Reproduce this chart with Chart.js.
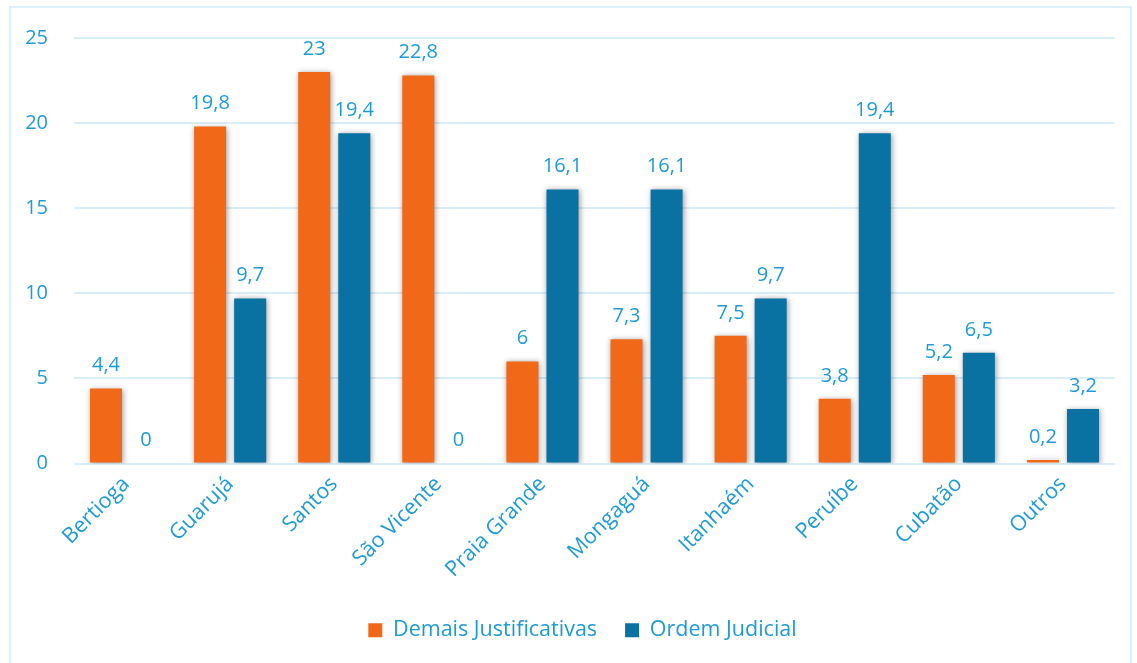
<!DOCTYPE html>
<html>
<head>
<meta charset="utf-8">
<script src="https://cdn.jsdelivr.net/npm/chart.js@4"></script>
<style>
  html, body { margin: 0; padding: 0; background: #fff; overflow: hidden; }
  #frame { position: absolute; left: 9px; top: 6px; width: 1119px; height: 700px; border: 2px solid #dcf0fb; }
  #chart { position: absolute; left: 0; top: 0; }
</style>
</head>
<body>
<div id="frame"></div>
<canvas id="chart" width="1137" height="663"></canvas>
<script>
// dados
const cidades = ['Bertioga', 'Guarujá', 'Santos', 'São Vicente', 'Praia Grande', 'Mongaguá', 'Itanhaém', 'Peruíbe', 'Cubatão', 'Outros'];
const demais = [4.4, 19.8, 23, 22.8, 6, 7.3, 7.5, 3.8, 5.2, 0.2];
const ordem = [0, 9.7, 19.4, 0, 16.1, 16.1, 9.7, 19.4, 6.5, 3.2];
const yMax = 25;
const yStep = 5;

const textColor = '#1e9bd7';
const fontFamily = '"Open Sans", sans-serif';

// sombra das barras
const shadowPlugin = {
  id: 'barShadow',
  beforeDatasetDraw(chart) {
    const ctx = chart.ctx;
    ctx.save();
    ctx.shadowColor = 'rgba(0,0,0,0.4)';
    ctx.shadowBlur = 6;
    ctx.shadowOffsetX = 1;
    ctx.shadowOffsetY = 1;
  },
  afterDatasetDraw(chart) {
    chart.ctx.restore();
  }
};

// legenda um pouco deslocada para a direita, como no original
const legendShift = {
  id: 'legendShift',
  afterLayout(chart) {
    if (chart.legend) chart.legend.left += 50;
  }
};

// rótulos de valor acima das barras
const valueLabels = {
  id: 'valueLabels',
  afterDatasetsDraw(chart) {
    const ctx = chart.ctx;
    ctx.save();
    ctx.font = '20px ' + fontFamily;
    ctx.fillStyle = textColor;
    ctx.textAlign = 'center';
    ctx.textBaseline = 'bottom';
    chart.data.datasets.forEach((ds, i) => {
      chart.getDatasetMeta(i).data.forEach((bar, j) => {
        const txt = String(ds.data[j]).replace('.', ',');
        ctx.fillText(txt, bar.x, bar.y - 13);
      });
    });
    ctx.restore();
  }
};

new Chart(document.getElementById('chart'), {
  type: 'bar',
  data: {
    labels: cidades,
    datasets: [{
      label: 'Demais Justificativas',
      backgroundColor: '#f26819',
      data: demais
    }, {
      label: 'Ordem Judicial',
      backgroundColor: '#0a72a3',
      data: ordem
    }]
  },
  options: {
    responsive: false,
    animation: false,
    devicePixelRatio: 1,
    layout: { padding: { top: 36, right: 22, bottom: 12, left: 0 } },
    datasets: { bar: { categoryPercentage: 0.77, barPercentage: 0.8 } },
    scales: {
      x: {
        offset: true,
        grid: { display: false },
        border: { display: false },
        ticks: {
          color: textColor,
          font: { family: fontFamily, size: 21.5 },
          minRotation: 45,
          maxRotation: 45,
          padding: 0
        },
        afterFit(scale) { scale.height = 128; }
      },
      y: {
        min: 0,
        max: yMax,
        grid: { color: '#d9eefa', lineWidth: 2, drawTicks: false },
        border: { display: false },
        ticks: {
          stepSize: yStep,
          color: textColor,
          font: { family: fontFamily, size: 20 },
          padding: 26
        },
        afterFit(scale) { scale.width = 74; }
      }
    },
    plugins: {
      legend: {
        position: 'bottom',
        labels: {
          color: textColor,
          font: { family: fontFamily, size: 21.5 },
          boxWidth: 14,
          boxHeight: 14,
          padding: 28,
          generateLabels(chart) {
            return chart.data.datasets.map((ds, i) => ({
              text: ds.label,
              fillStyle: ds.backgroundColor,
              strokeStyle: ds.backgroundColor,
              lineWidth: 0,
              fontColor: textColor,
              datasetIndex: i
            }));
          }
        }
      },
      tooltip: { enabled: false }
    }
  },
  plugins: [shadowPlugin, legendShift, valueLabels]
});
</script>
</body>
</html>
